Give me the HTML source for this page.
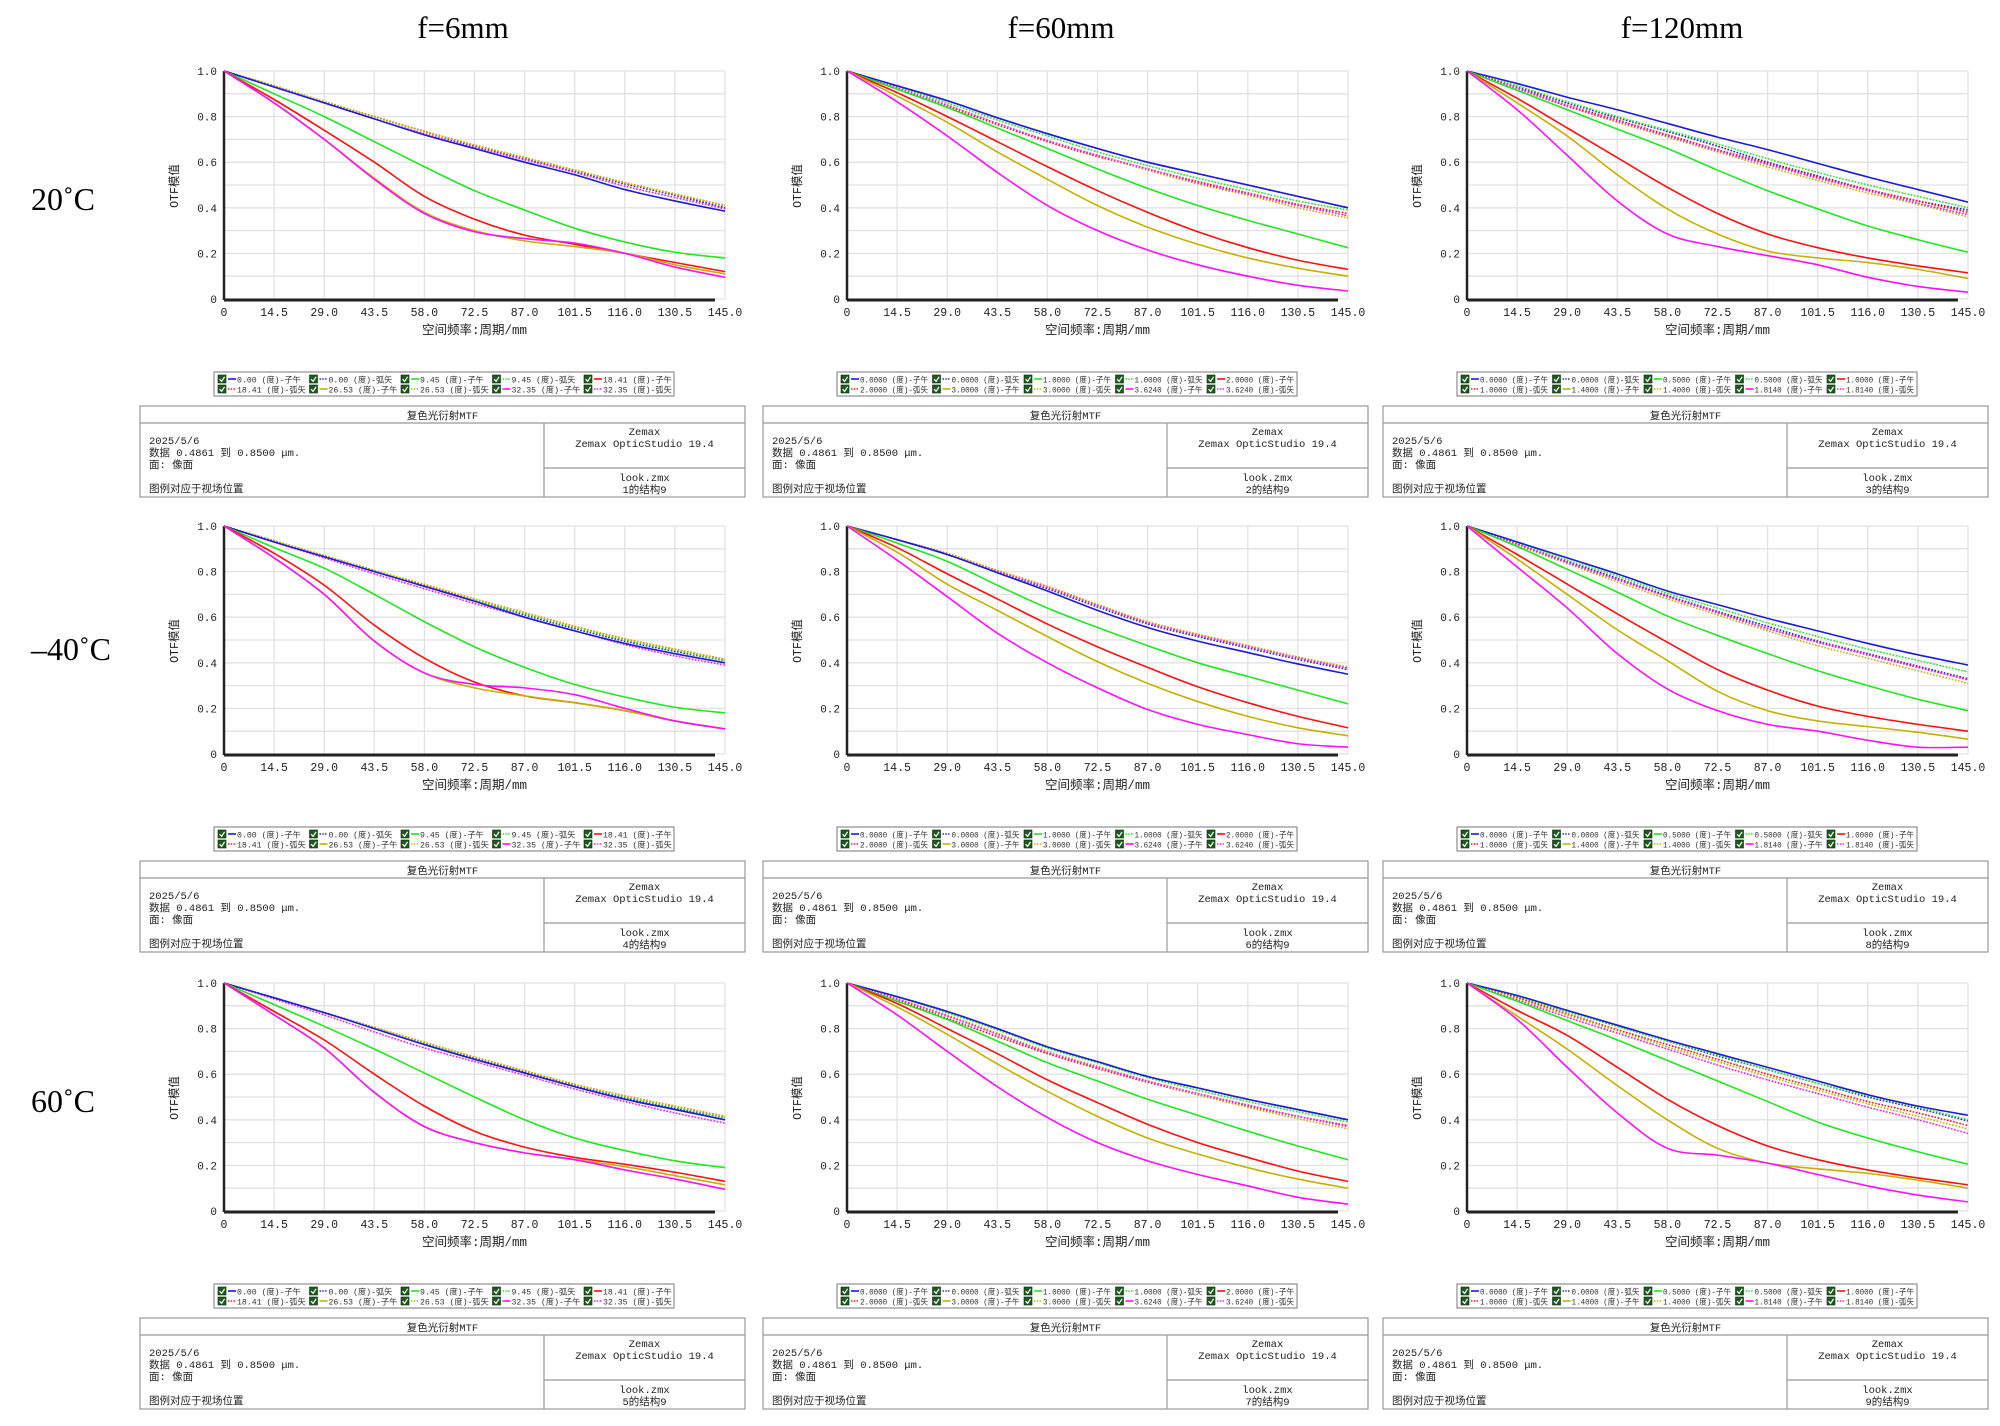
<!DOCTYPE html>
<html><head><meta charset="utf-8"><style>
html,body{margin:0;padding:0;background:#fff;}
#root{position:relative;width:2000px;height:1426px;overflow:hidden;background:#fff;}
svg{position:absolute;left:0;top:0;}
.mono{font-family:"Liberation Mono","Noto Sans CJK SC",monospace;}
.serif{font-family:"Liberation Serif","Noto Serif CJK SC",serif;}
</style></head><body>
<div id="root">
<svg id="chart" width="2000" height="1426" viewBox="0 0 2000 1426" xmlns="http://www.w3.org/2000/svg"></svg>
</div>
<script>
// ---- data ----
const freqTicks = [0,14.5,29.0,43.5,58.0,72.5,87.0,101.5,116.0,130.5,145.0];
const yTicks = [0,0.2,0.4,0.6,0.8,1.0];
const colTitles = ["f=6mm","f=60mm","f=120mm"];
const rowTitles = ["20˚C","–40˚C","60˚C"];
const fieldsF6 = ["0.00","9.45","18.41","26.53","32.35"];
const fieldsF60 = ["0.0000","1.0000","2.0000","3.0000","3.6240"];
const fieldsF120 = ["0.0000","0.5000","1.0000","1.4000","1.8140"];
const structNums = [[1,2,3],[4,6,8],[5,7,9]];

// tangential (solid) series per panel: blue, green, red, yellow, magenta
const p11_tan = [
 [1,.93,.86,.79,.72,.66,.60,.545,.48,.43,.385],
 [1,.90,.80,.69,.58,.475,.39,.31,.25,.205,.18],
 [1,.875,.74,.60,.45,.35,.28,.24,.20,.16,.12],
 [1,.86,.70,.53,.38,.30,.255,.23,.20,.15,.11],
 [1,.86,.70,.525,.375,.295,.265,.245,.20,.14,.095]];
const p11_sag = [
 [1,.935,.865,.80,.735,.67,.615,.56,.505,.455,.40],
 [1,.935,.865,.80,.735,.675,.62,.565,.51,.46,.41],
 [1,.935,.865,.80,.735,.675,.62,.565,.51,.46,.41],
 [1,.935,.865,.80,.735,.675,.62,.565,.51,.46,.41],
 [1,.93,.86,.79,.725,.665,.61,.555,.495,.445,.395]];
const p12_tan = [
 [1,.935,.87,.795,.725,.66,.60,.55,.50,.45,.40],
 [1,.92,.84,.75,.66,.57,.485,.41,.345,.285,.225],
 [1,.905,.80,.69,.58,.475,.38,.295,.225,.17,.13],
 [1,.89,.775,.645,.525,.41,.315,.24,.18,.135,.10],
 [1,.865,.715,.555,.41,.30,.215,.15,.10,.06,.035]];
const p12_sag = [
 [1,.935,.87,.795,.725,.66,.60,.55,.50,.45,.40],
 [1,.93,.86,.785,.715,.645,.585,.53,.48,.43,.39],
 [1,.925,.845,.765,.69,.625,.57,.515,.465,.415,.375],
 [1,.925,.85,.77,.695,.63,.565,.505,.455,.40,.355],
 [1,.925,.85,.77,.695,.63,.57,.51,.46,.41,.365]];
const p13_tan = [
 [1,.945,.885,.83,.77,.71,.655,.595,.535,.48,.425],
 [1,.915,.83,.745,.66,.565,.475,.395,.32,.26,.205],
 [1,.88,.75,.62,.49,.375,.285,.225,.18,.145,.115],
 [1,.86,.715,.545,.395,.285,.21,.18,.16,.13,.09],
 [1,.83,.63,.43,.285,.23,.19,.15,.095,.055,.03]];
const p13_sag = [
 [1,.93,.86,.795,.735,.67,.60,.54,.48,.43,.39],
 [1,.935,.865,.80,.74,.68,.615,.555,.50,.45,.40],
 [1,.925,.85,.785,.72,.655,.595,.535,.48,.43,.38],
 [1,.92,.845,.775,.71,.645,.58,.52,.465,.415,.36],
 [1,.925,.845,.78,.715,.65,.59,.53,.475,.42,.37]];
const p21_tan = [
 [1,.93,.865,.80,.735,.67,.60,.54,.485,.44,.40],
 [1,.905,.815,.70,.58,.47,.38,.305,.25,.205,.18],
 [1,.88,.74,.565,.42,.315,.255,.225,.19,.145,.11],
 [1,.86,.70,.495,.355,.29,.255,.225,.19,.145,.11],
 [1,.86,.70,.495,.355,.305,.29,.26,.20,.145,.11]];
const p21_sag = [
 [1,.935,.87,.805,.74,.675,.61,.55,.495,.45,.41],
 [1,.935,.87,.805,.74,.675,.615,.555,.50,.455,.41],
 [1,.935,.87,.805,.74,.68,.62,.56,.505,.46,.415],
 [1,.935,.87,.805,.745,.68,.62,.56,.505,.46,.415],
 [1,.93,.86,.79,.725,.66,.60,.54,.48,.43,.39]];
const p22_tan = [
 [1,.94,.875,.795,.715,.63,.555,.495,.445,.395,.35],
 [1,.925,.845,.74,.64,.555,.475,.40,.34,.28,.22],
 [1,.905,.79,.68,.57,.47,.38,.295,.225,.165,.115],
 [1,.885,.745,.63,.515,.405,.31,.23,.165,.115,.08],
 [1,.85,.69,.53,.40,.29,.195,.13,.085,.045,.03]];
const p22_sag = [
 [1,.94,.875,.80,.725,.645,.57,.515,.465,.415,.37],
 [1,.94,.875,.80,.73,.65,.575,.52,.47,.42,.375],
 [1,.94,.88,.805,.735,.655,.58,.525,.475,.425,.38],
 [1,.94,.88,.805,.735,.655,.58,.525,.475,.425,.38],
 [1,.94,.875,.80,.73,.65,.575,.52,.47,.42,.375]];
const p23_tan = [
 [1,.93,.86,.79,.715,.655,.595,.54,.485,.435,.39],
 [1,.91,.81,.71,.605,.52,.44,.365,.30,.24,.19],
 [1,.875,.745,.615,.49,.37,.28,.21,.165,.13,.10],
 [1,.855,.70,.545,.41,.275,.19,.145,.12,.095,.065],
 [1,.82,.64,.44,.285,.19,.13,.10,.06,.03,.03]];
const p23_sag = [
 [1,.925,.845,.77,.695,.625,.56,.495,.44,.385,.33],
 [1,.925,.85,.78,.705,.64,.575,.515,.46,.41,.36],
 [1,.92,.84,.765,.69,.62,.55,.49,.435,.38,.325],
 [1,.915,.835,.755,.68,.61,.54,.475,.42,.365,.31],
 [1,.92,.84,.765,.69,.62,.55,.49,.435,.38,.325]];
const p31_tan = [
 [1,.935,.87,.80,.73,.665,.605,.545,.49,.445,.40],
 [1,.905,.81,.71,.605,.50,.40,.32,.265,.22,.19],
 [1,.875,.75,.60,.46,.35,.28,.235,.205,.17,.13],
 [1,.86,.715,.52,.37,.30,.255,.225,.195,.155,.115],
 [1,.86,.715,.52,.37,.30,.255,.225,.18,.14,.095]];
const p31_sag = [
 [1,.935,.87,.805,.735,.67,.61,.55,.495,.45,.41],
 [1,.935,.87,.805,.735,.675,.615,.555,.50,.455,.41],
 [1,.935,.87,.805,.74,.675,.615,.555,.505,.46,.415],
 [1,.935,.87,.805,.74,.675,.615,.555,.505,.46,.415],
 [1,.93,.86,.785,.715,.655,.595,.535,.48,.43,.385]];
const p32_tan = [
 [1,.94,.875,.80,.72,.655,.59,.54,.49,.445,.40],
 [1,.92,.84,.745,.65,.57,.49,.42,.35,.285,.225],
 [1,.91,.80,.69,.575,.475,.38,.30,.235,.175,.13],
 [1,.895,.775,.645,.525,.415,.32,.25,.19,.14,.10],
 [1,.86,.70,.545,.41,.30,.22,.16,.11,.06,.03]];
const p32_sag = [
 [1,.94,.875,.80,.72,.655,.59,.54,.49,.445,.40],
 [1,.94,.87,.795,.715,.65,.585,.53,.48,.435,.39],
 [1,.925,.845,.765,.69,.625,.565,.51,.46,.415,.375],
 [1,.93,.86,.78,.70,.635,.57,.51,.455,.405,.36],
 [1,.93,.855,.775,.695,.63,.57,.515,.465,.415,.37]];
const p33_tan = [
 [1,.945,.88,.815,.75,.69,.63,.57,.51,.46,.42],
 [1,.92,.835,.75,.66,.57,.48,.39,.32,.26,.205],
 [1,.88,.77,.63,.49,.375,.285,.225,.18,.145,.115],
 [1,.855,.71,.55,.40,.275,.21,.185,.165,.135,.10],
 [1,.84,.63,.43,.275,.245,.21,.16,.11,.07,.04]];
const p33_sag = [
 [1,.94,.875,.81,.745,.68,.62,.56,.50,.45,.395],
 [1,.94,.875,.81,.745,.685,.62,.56,.505,.455,.40],
 [1,.935,.865,.795,.73,.665,.60,.54,.48,.43,.375],
 [1,.93,.86,.79,.72,.655,.59,.53,.47,.415,.36],
 [1,.925,.85,.78,.71,.64,.575,.515,.455,.40,.34]];

const panelTan = [[p11_tan,p12_tan,p13_tan],[p21_tan,p22_tan,p23_tan],[p31_tan,p32_tan,p33_tan]];
const panelSag = [[p11_sag,p12_sag,p13_sag],[p21_sag,p22_sag,p23_sag],[p31_sag,p32_sag,p33_sag]];

// ---- layout ----
const colX = [224, 847, 1467];
const rowY = [71, 526, 983];
const PW = 501, PH = 228;
const colors = ["#1c1cd0","#22e622","#ff1010","#c8b000","#ff10ff"];
const colTitleX = [463, 1061, 1682];
const rowTitleY = [199, 649, 1101];

const NS = "http://www.w3.org/2000/svg";
const svg = document.getElementById('chart');
function mk(tag, attrs, parent){
  const e = document.createElementNS(NS, tag);
  for (const k in attrs) e.setAttribute(k, attrs[k]);
  (parent||svg).appendChild(e);
  return e;
}
function txt(s, attrs, parent){ const t = mk('text', attrs, parent); t.textContent = s; return t; }

function smoothPath(pts){
  let d = "M" + pts[0][0].toFixed(2) + "," + pts[0][1].toFixed(2);
  for (let i=0;i<pts.length-1;i++){
    const p0 = pts[Math.max(0,i-1)], p1 = pts[i], p2 = pts[i+1], p3 = pts[Math.min(pts.length-1,i+2)];
    const c1x = p1[0]+(p2[0]-p0[0])/6, c1y = p1[1]+(p2[1]-p0[1])/6;
    const c2x = p2[0]-(p3[0]-p1[0])/6, c2y = p2[1]-(p3[1]-p1[1])/6;
    d += " C"+c1x.toFixed(2)+","+c1y.toFixed(2)+" "+c2x.toFixed(2)+","+c2y.toFixed(2)+" "+p2[0].toFixed(2)+","+p2[1].toFixed(2);
  }
  return d;
}

colTitles.forEach((t,i)=>{
  const e = txt(t, {x:colTitleX[i], y:38, 'text-anchor':'middle', 'font-size':31, class:'serif', fill:'#000'});
  
  
});
rowTitles.forEach((t,i)=>{
  const e = txt(t, {x:31, y:rowTitleY[i]+11, 'font-size':32, class:'serif', fill:'#000'});
  
  
});

function drawPanel(r, c){
  const ox = colX[c], oy = rowY[r];
  const g = mk('g', {});
  
  
  const xs = v => ox + v/145*PW;
  const ys = v => oy + PH - v*PH;
  for (let i=0;i<=10;i++){
    const yy = oy + PH*i/10;
    mk('line',{x1:ox,x2:ox+PW,y1:yy,y2:yy,stroke:'#e2e2e2','stroke-width':1.3},g);
  }
  freqTicks.forEach(f=>{
    mk('line',{x1:xs(f),x2:xs(f),y1:oy,y2:oy+PH,stroke:'#e2e2e2','stroke-width':1.3},g);
  });
  const ya = mk('line',{x1:ox,x2:ox,y1:oy,y2:oy+PH+1,stroke:'#222','stroke-width':2.5},g);
  
  
  const xa = mk('line',{x1:ox,x2:ox+PW-10,y1:oy+PH+1,y2:oy+PH+1,stroke:'#222','stroke-width':3},g);
  
  
  yTicks.forEach(v=>{
    const t = txt(v===0?'0':v.toFixed(1), {x:ox-7, y:ys(v)+4, 'text-anchor':'end','font-size':11,class:'mono',fill:'#222'}, g);
    
    
  });
  freqTicks.forEach(f=>{
    const t = txt(f===0?'0':f.toFixed(1), {x:xs(f), y:oy+PH+17, 'text-anchor':'middle','font-size':11.5,class:'mono',fill:'#222'}, g);
    
    
  });
  const xt = txt('空间频率:周期/mm', {x:ox+PW/2, y:oy+PH+35, 'text-anchor':'middle','font-size':12.5,class:'mono',fill:'#222'}, g);
  
  
  const yl = txt('OTF模值', {x:0,y:0,'text-anchor':'middle','font-size':11.5,class:'mono',fill:'#222',transform:'translate('+(ox-46)+','+(oy+PH/2+1)+') rotate(-90)'}, g);
  
  
  const sag = panelSag[r][c], tan = panelTan[r][c];
  sag.forEach((ser,k)=>{
    const pts = ser.map((v,i)=>[xs(freqTicks[i]), ys(v)]);
    const p = mk('path',{d:smoothPath(pts),fill:'none',stroke:colors[k],'stroke-width':1.6,'stroke-dasharray':'1.6,1.6'},g);
    
    
  });
  tan.forEach((ser,k)=>{
    const pts = ser.map((v,i)=>[xs(freqTicks[i]), ys(v)]);
    const p = mk('path',{d:smoothPath(pts),fill:'none',stroke:colors[k],'stroke-width':1.6},g);
    
    
  });
  // legend
  const fields = c===0?fieldsF6:(c===1?fieldsF60:fieldsF120);
  const lx = ox-10, ly = oy+301, lw = 460, lh = 24;
  const lg = mk('g',{},g);
  
  
  mk('rect',{x:lx,y:ly,width:lw,height:lh,fill:'#fff',stroke:'#777','stroke-width':1},lg);
  for (let i=0;i<10;i++){
    const k = Math.floor(i/2), sagittal = i%2===1;
    const row = Math.floor(i/5), col = i%5;
    const ex = lx+4+col*91.5, ey = ly+3+row*10;
    const en = mk('g',{},lg);
    
    
    mk('rect',{x:ex,y:ey,width:8,height:8,fill:'#1d5a1d',stroke:'#0b2a0b','stroke-width':0.6},en);
    mk('path',{d:'M'+(ex+1.6)+','+(ey+4.2)+' l2,2.2 l3,-4.6',fill:'none',stroke:'#fff','stroke-width':1.2},en);
    const la = {x1:ex+10,x2:ex+18,y1:ey+4,y2:ey+4,stroke:colors[k],'stroke-width':1.6};
    if (sagittal) la['stroke-dasharray']='1.4,1.4';
    mk('line',la,en);
    const ta = {x:ex+19,y:ey+7.5,'font-size':8.2,class:'mono',fill:'#333'};
    if (c>0){ ta.textLength = 68; ta.lengthAdjust = 'spacingAndGlyphs'; }
    txt(fields[k]+' (度)-'+(sagittal?'弧矢':'子午'), ta, en);
  }
  // info box
  const bx = ox-84, by = oy+335, bw = 605, bh = 91, split = 404;
  const ib = mk('g',{},g);
  
  
  mk('rect',{x:bx,y:by,width:bw,height:bh,fill:'#fff',stroke:'#999','stroke-width':1.2},ib);
  mk('line',{x1:bx,x2:bx+bw,y1:by+17,y2:by+17,stroke:'#999','stroke-width':1.2},ib);
  mk('line',{x1:bx+split,x2:bx+split,y1:by+17,y2:by+bh,stroke:'#999','stroke-width':1.2},ib);
  mk('line',{x1:bx+split,x2:bx+bw,y1:by+62,y2:by+62,stroke:'#999','stroke-width':1.2},ib);
  const fs = {'font-size':10.5,class:'mono',fill:'#222'};
  txt('复色光衍射MTF', Object.assign({x:bx+bw/2,y:by+13,'text-anchor':'middle'},fs), ib);
  txt('2025/5/6', Object.assign({x:bx+9,y:by+38},fs), ib);
  txt('数据 0.4861 到 0.8500 μm.', Object.assign({x:bx+9,y:by+50},fs), ib);
  txt('面: 像面', Object.assign({x:bx+9,y:by+62},fs), ib);
  txt('图例对应于视场位置', Object.assign({x:bx+9,y:by+86},fs), ib);
  const rc = bx+split+(bw-split)/2;
  txt('Zemax', Object.assign({x:rc,y:by+29,'text-anchor':'middle'},fs), ib);
  txt('Zemax OpticStudio 19.4', Object.assign({x:rc,y:by+41,'text-anchor':'middle'},fs), ib);
  txt('look.zmx', Object.assign({x:rc,y:by+75,'text-anchor':'middle'},fs), ib);
  txt(structNums[r][c]+'的结构9', Object.assign({x:rc,y:by+87,'text-anchor':'middle'},fs), ib);
}
for (let r=0;r<3;r++) for (let c=0;c<3;c++) drawPanel(r,c);
</script>
</body></html>
